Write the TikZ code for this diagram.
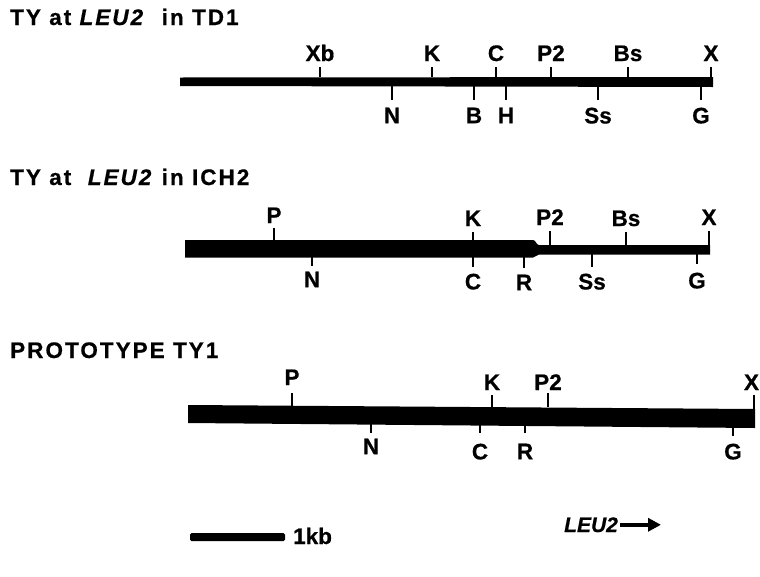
\documentclass[tikz,border=0pt]{standalone}
\usepackage{fontspec}
\setmainfont{Liberation Sans}
\newfontfamily\labfont[FakeBold=0.6]{Liberation Sans}
\newfontfamily\ttlfont[LetterSpace=9,FakeBold=0.6]{Liberation Sans}
\usetikzlibrary{arrows.meta}
\begin{document}
\begin{tikzpicture}[x=1pt,y=-1pt,
  lab/.style={font=\labfont\bfseries\fontsize{22.5}{26}\selectfont, inner sep=0pt},
  ttl/.style={font=\ttlfont\bfseries\fontsize{22.5}{26}\selectfont, inner sep=0pt, anchor=base west},
  site/.style={line width=1.4pt},
  abv/.style={lab, anchor=base, yshift=#1},
  blw/.style={lab, anchor=north, yshift=-#1},
  barfill/.style={fill=black}
]
\useasboundingbox[fill=white] (0,0) rectangle (760,576);

% ---------- Row 1: TY at LEU2 in TD1
\node[ttl] (t1) at (10,25) {TY at \textit{LEU2}\ \ in TD1};
\fill[barfill] (180,77.5) -- (713,77) -- (713,87) -- (180,86) -- cycle;
\draw[site] (320,77) -- (320,67) node[abv=6] (r1xb) {Xb};
\draw[site] (432,77) -- (432,67) node[abv=6] (r1k) {K};
\draw[site] (496,77) -- (496,67) node[abv=6] (r1c) {C};
\draw[site] (551,77) -- (551,67) node[abv=6] (r1p2) {P2};
\draw[site] (628,77) -- (628,67) node[abv=6] (r1bs) {Bs};
\draw[site] (711,77) -- (711,67) node[abv=6] (r1x) {X};
\draw[site] (392,86) -- (392,100) node[blw=7] (r1n) {N};
\draw[site] (474,86) -- (474,100) node[blw=7] (r1b) {B};
\draw[site] (506,86) -- (506,100) node[blw=7] (r1h) {H};
\draw[site] (598,86) -- (598,100) node[blw=7] (r1ss) {Ss};
\draw[site] (701,86) -- (701,100) node[blw=7] (r1g) {G};

% ---------- Row 2: TY at LEU2 in ICH2
\node[ttl] (t2) at (10,185) {TY at\ \ \textit{LEU2} in ICH2};
\fill[barfill] (185,240) -- (533,240) to[out=0,in=180] (539,245) -- (710,245) -- (710,254.5)
  -- (539,254.5) to[out=180,in=0] (533,257.5) -- (185,257.5) -- cycle;
\draw[site] (274,240) -- (274,228) node[abv=5] (r2p) {P};
\draw[site] (473,240) -- (473,232) node[abv=6] (r2k) {K};
\draw[site] (550,245) -- (550,231) node[abv=6] (r2p2) {P2};
\draw[site] (626,245) -- (626,232) node[abv=6] (r2bs) {Bs};
\draw[site] (709,245) -- (709,231) node[abv=6] (r2x) {X};
\draw[site] (312,257) -- (312,266) node[blw=5] (r2n) {N};
\draw[site] (473,257) -- (473,267) node[blw=6] (r2c) {C};
\draw[site] (524,257) -- (524,268) node[blw=6] (r2r) {R};
\draw[site] (592,254) -- (592,267) node[blw=6] (r2ss) {Ss};
\draw[site] (697,254) -- (697,264) node[blw=8] (r2g) {G};

% ---------- Row 3: PROTOTYPE TY1
\node[ttl] (t3) at (10,358) {PROTOTYPE\ TY1};
\fill[barfill] (188,405) -- (755,409) -- (755,428) -- (188,423) -- cycle;
\draw[site] (292,406) -- (292,393) node[abv=8] (r3p) {P};
\draw[site] (492,407) -- (492,395) node[abv=5] (r3k) {K};
\draw[site] (548,407) -- (548,393) node[abv=3] (r3p2) {P2};
\draw[site] (754,409) -- (754,395) node[abv=5, xshift=-2.5pt] (r3x) {X};
\draw[site] (371,423) -- (371,433) node[blw=5] (r3n) {N};
\draw[site] (480,423) -- (480,433) node[blw=10] (r3c) {C};
\draw[site] (525,423) -- (525,433) node[blw=10] (r3r) {R};
\draw[site] (733,427) -- (733,436) node[blw=7] (r3g) {G};

% ---------- scale bar and LEU2 arrow
\node[lab, anchor=base west] (kb) at (293,544) {1kb};
\fill[barfill, rounded corners=1.5pt] (190,533) rectangle (285,541);
\node[lab, anchor=base west, font=\labfont\bfseries\itshape\fontsize{21}{24}\selectfont] (leu) at (564,532) {LEU2};
\coordinate (arrend) at (661,525);
\draw[line width=3.5pt, -{Triangle[length=13pt,width=13pt]}] ([xshift=2pt]leu.east) -- (arrend |- leu.east);
\end{tikzpicture}
\end{document}
